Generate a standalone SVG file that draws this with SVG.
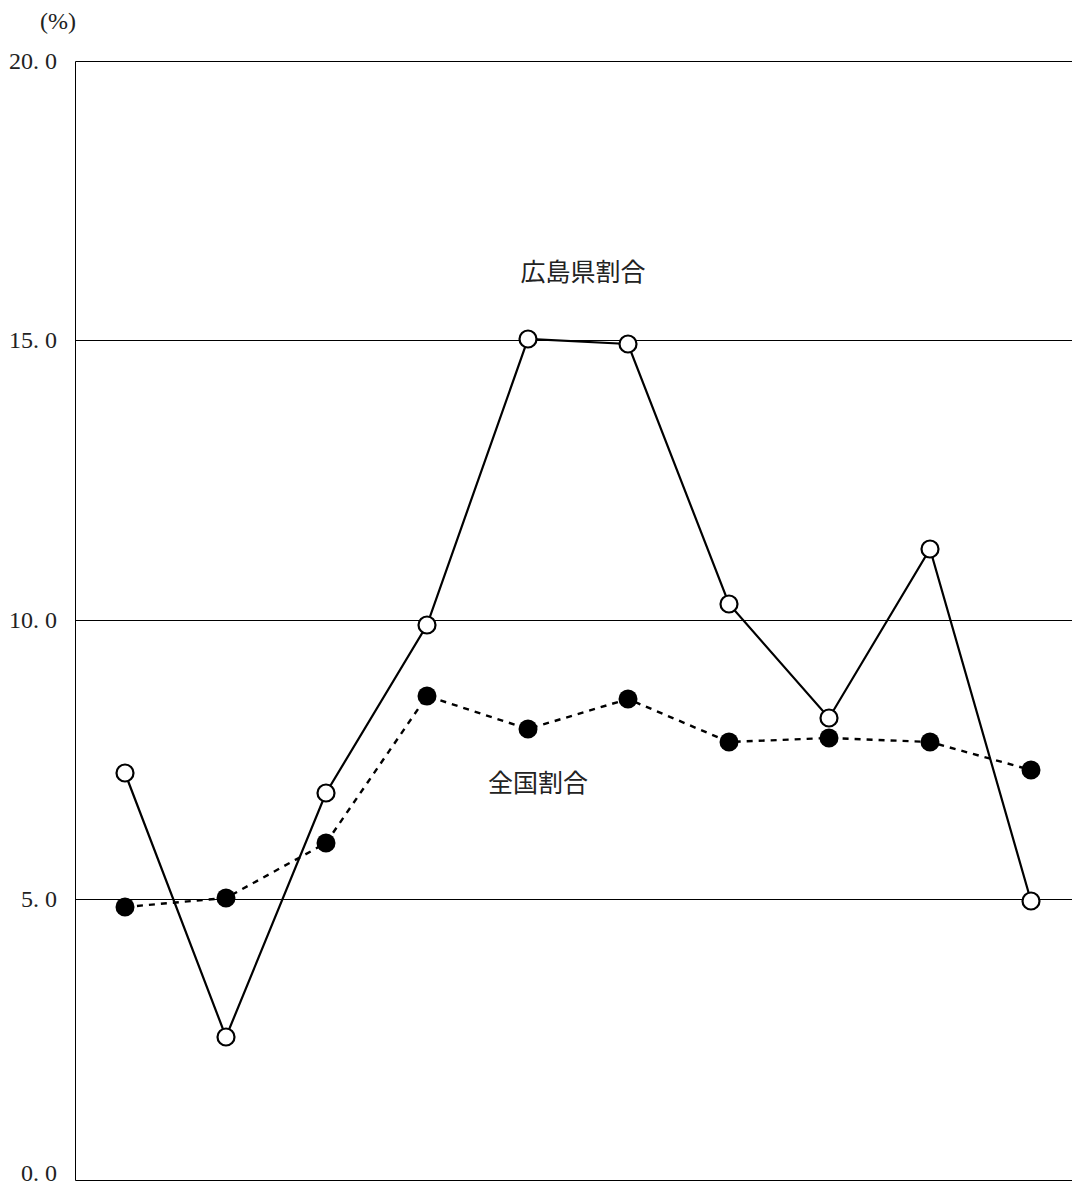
<svg xmlns="http://www.w3.org/2000/svg" width="1072" height="1186" viewBox="0 0 1072 1186">
<style>
.ax{font-family:"Liberation Serif","Noto Sans CJK JP",serif;font-size:24px;fill:#222}
.lb{font-family:"Noto Sans CJK JP",sans-serif;font-size:25px;fill:#222}
.grid{stroke:#000;stroke-width:1;fill:none}
.pref{stroke:#000;stroke-width:2.2;fill:none}
.nat{stroke:#000;stroke-width:2.4;fill:none;stroke-dasharray:6 6}
.o{fill:#fff;stroke:#000;stroke-width:2.2}
.f{fill:#000}
</style>
<rect width="1072" height="1186" fill="#fff"/>
<g id="axes">
<path class="grid" d="M75.5,61.5H1072M75.5,61.5V1180.5H1072M75,340.5H1072M75,620.5H1072M75,899.5H1072"/>
<text class="ax" x="58" y="29" text-anchor="middle">(%)</text>
<text class="ax" x="57" y="69" text-anchor="end">20.<tspan dx="6">0</tspan></text>
<text class="ax" x="57" y="348" text-anchor="end">15.<tspan dx="6">0</tspan></text>
<text class="ax" x="57" y="628" text-anchor="end">10.<tspan dx="6">0</tspan></text>
<text class="ax" x="57" y="907" text-anchor="end">5.<tspan dx="6">0</tspan></text>
<text class="ax" x="57" y="1181" text-anchor="end">0.<tspan dx="6">0</tspan></text>
</g>
<g id="connectors">
<polyline class="nat" points="125,907 226,898 326,843 427,696 528,729 628,699 729,742 829,738 930,742 1031,770"/>
<polyline class="pref" points="125,773 226,1037 326,793 427,625 528,339 628,344 729,604 829,718 930,549 1031,901"/>
</g>
<g id="national">
<circle class="f" cx="125" cy="907" r="9.5"/><circle class="f" cx="226" cy="898" r="9.5"/><circle class="f" cx="326" cy="843" r="9.5"/><circle class="f" cx="427" cy="696" r="9.5"/><circle class="f" cx="528" cy="729" r="9.5"/><circle class="f" cx="628" cy="699" r="9.5"/><circle class="f" cx="729" cy="742" r="9.5"/><circle class="f" cx="829" cy="738" r="9.5"/><circle class="f" cx="930" cy="742" r="9.5"/><circle class="f" cx="1031" cy="770" r="9.5"/>
</g>
<g id="hiroshima">
<circle class="o" cx="125" cy="773" r="8.5"/><circle class="o" cx="226" cy="1037" r="8.5"/><circle class="o" cx="326" cy="793" r="8.5"/><circle class="o" cx="427" cy="625" r="8.5"/><circle class="o" cx="528" cy="339" r="8.5"/><circle class="o" cx="628" cy="344" r="8.5"/><circle class="o" cx="729" cy="604" r="8.5"/><circle class="o" cx="829" cy="718" r="8.5"/><circle class="o" cx="930" cy="549" r="8.5"/><circle class="o" cx="1031" cy="901" r="8.5"/>
</g>
<g id="label-hiroshima"><text class="lb" x="583" y="281" text-anchor="middle">広島県割合</text></g>
<g id="label-national"><text class="lb" x="538" y="792" text-anchor="middle">全国割合</text></g>
</svg>
